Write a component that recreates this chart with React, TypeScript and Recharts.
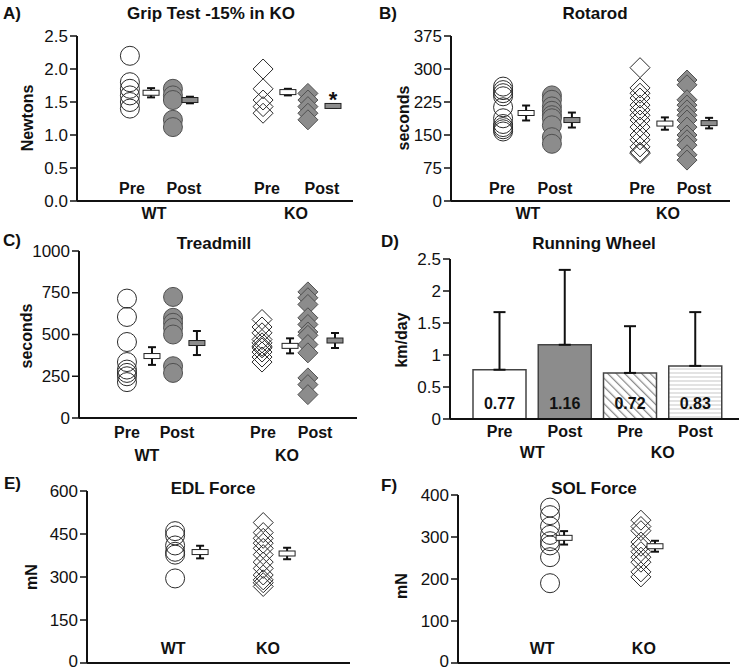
import { Bar, BarChart, Cell, ErrorBar, LabelList, Scatter, ScatterChart, XAxis, YAxis } from "recharts";

const FONT = '"Liberation Sans", Arial, Helvetica, sans-serif';
const INK = "#111";
const GREY = "#8c8c8c";

const phases = ["Pre", "Post", "Pre", "Post"];
const genotypes = ["WT", "KO"];

// A) grip strength, newtons
const gripWtPre = [2.2, 1.8, 1.7, 1.6, 1.5, 1.4];
const gripWtPost = [1.7, 1.6, 1.53, 1.23, 1.12];
const gripKoPre = [2.0, 1.7, 1.53, 1.43, 1.33];
const gripKoPost = [1.63, 1.53, 1.43, 1.33, 1.23];
const gripMeans = [1.64, 1.53, 1.65, 1.44];
const gripSem = [0.07, 0.05, 0.05, 0.03];

// B) rotarod, seconds
const rotaWtPre = [260, 252, 245, 238, 213, 188, 175, 168, 163, 158];
const rotaWtPost = [240, 230, 215, 205, 195, 188, 172, 145, 130];
const rotaKoPre = [303, 257, 245, 234, 218, 207, 195, 184, 168, 150, 139, 123, 111, 108];
const rotaKoPost = [275, 264, 230, 218, 207, 195, 184, 168, 150, 139, 127, 105, 93];
const rotaMeans = [200, 184, 176, 177];
const rotaSem = [17, 17, 14, 12];

// C) treadmill, seconds
const treadWtPre = [715, 605, 455, 335, 290, 270, 250, 215];
const treadWtPost = [725, 600, 570, 540, 500, 310, 270];
const treadKoPre = [590, 545, 510, 470, 450, 430, 420, 395, 365, 335];
const treadKoPost = [755, 720, 680, 600, 560, 515, 495, 440, 390, 240, 200, 140];
const treadMeans = [371, 449, 432, 464];
const treadSem = [53, 72, 45, 45];

// D) running wheel, km/day
const wheelGroups = ["WT", "WT", "KO", "KO"];
const wheelMeans = [0.77, 1.16, 0.72, 0.83];
const wheelSd = [0.9, 1.17, 0.73, 0.84];

// E) EDL force, mN
const edlWt = [460, 445, 410, 388, 378, 295];
const edlKo = [490, 455, 435, 418, 400, 378, 352, 330, 307, 290, 280, 267];
const edlMeans = [387, 382];
const edlSem = [22, 20];

// F) SOL force, mN
const solWt = [370, 352, 325, 305, 290, 280, 252, 190];
const solKo = [340, 325, 315, 288, 278, 265, 252, 240, 217, 205];
const solMeans = [298, 278];
const solSem = [16, 13];

type Kind = "circle" | "diamond";
type Cloud = { values: number[]; slot: number; kind: Kind; filled: boolean };
type Mean = { slot: number; value: number; err: number; filled: boolean; star?: boolean };
type AxisText = { at: number; text: string; dy: number };

function Marker(props: any) {
  const { cx, cy, kind, filled } = props;
  if (cx == null || cy == null) return <g />;
  const fill = filled ? GREY : "none";
  const stroke = filled ? "#505050" : "#2b2b2b";
  if (kind === "circle") return <circle cx={cx} cy={cy} r={9.5} fill={fill} stroke={stroke} strokeWidth={1} />;
  const s = 10;
  return (
    <polygon
      points={`${cx},${cy - s} ${cx + s},${cy} ${cx},${cy + s} ${cx - s},${cy}`}
      fill={fill}
      stroke={stroke}
      strokeWidth={1}
    />
  );
}

function MeanBox(props: any) {
  const { cx, cy, payload } = props;
  return (
    <g>
      <rect x={cx - 8} y={cy - 2.5} width={16} height={5} fill={payload.filled ? GREY : "#fff"} stroke="#222" strokeWidth={1} />
      {payload.star ? (
        <text x={cx} y={cy + 1} textAnchor="middle" fontSize={22} fontWeight={700} fill={INK}>
          *
        </text>
      ) : null}
    </g>
  );
}

// left-axis numbers, a little larger than recharts' default; kept inside the page at the bottom
function YTick(props: any) {
  const { x, y, payload, fmt, maxY } = props;
  const v = payload.value as number;
  return (
    <text x={x} y={maxY != null ? Math.min(y, maxY) : y} textAnchor="end" dominantBaseline="central" fontSize={17} fill={INK}>
      {fmt ? fmt(v) : String(v)}
    </text>
  );
}

function Caption({ x, y, text, size = 17, left = false, rotate = false }: any) {
  const shift = left ? "translate(0,-50%)" : "translate(-50%,-50%)";
  return (
    <div
      style={{
        position: "absolute",
        left: x,
        top: y,
        transform: rotate ? `${shift} rotate(-90deg)` : shift,
        fontSize: size,
        fontWeight: 700,
        lineHeight: 1,
        whiteSpace: "nowrap",
        color: INK,
      }}
    >
      {text}
    </div>
  );
}

type PanelProps = {
  box: { left: number; top: number; width: number; height: number };
  plotTop: number;
  plotRight: number;
  yWidth: number;
  xHeight: number;
  yMax: number;
  yTicks: number[];
  yFmt?: (v: number) => string;
  clouds: Cloud[];
  means: Mean[];
  labels: AxisText[];
};

function ScatterPanel(p: PanelProps) {
  const renderTick = (t: any) => {
    const l = p.labels.find((a) => Math.abs(a.at - t.payload.value) < 1e-6);
    if (!l) return <g />;
    return (
      <text x={t.x} y={t.y + l.dy} textAnchor="middle" dominantBaseline="central" fontSize={16} fontWeight={700} fill={INK}>
        {l.text}
      </text>
    );
  };
  return (
    <div style={{ position: "absolute", ...p.box }}>
      <ScatterChart
        width={p.box.width}
        height={p.box.height}
        margin={{ top: p.plotTop, right: p.plotRight, bottom: 0, left: 0 }}
        style={{ fontFamily: FONT }}
      >
        <XAxis
          type="number"
          dataKey="x"
          domain={[0, 12]}
          ticks={p.labels.map((l) => l.at)}
          interval={0}
          tick={renderTick}
          tickLine={false}
          tickSize={0}
          tickMargin={0}
          height={p.xHeight}
          axisLine={{ stroke: INK, strokeWidth: 2 }}
        />
        <YAxis
          type="number"
          dataKey="y"
          domain={[0, p.yMax]}
          ticks={p.yTicks}
          interval={0}
          width={p.yWidth}
          tick={(t: any) => <YTick {...t} fmt={p.yFmt} maxY={p.box.height - 9} />}
          tickSize={7}
          tickMargin={2}
          axisLine={{ stroke: INK, strokeWidth: 2 }}
          tickLine={{ stroke: INK, strokeWidth: 1.5 }}
        />
        {p.clouds.map((c, i) => (
          <Scatter
            key={i}
            data={c.values.map((v) => ({ x: c.slot, y: v }))}
            shape={(s: any) => <Marker {...s} kind={c.kind} filled={c.filled} />}
            isAnimationActive={false}
          />
        ))}
        <Scatter data={p.means.map((m) => ({ ...m, x: m.slot, y: m.value }))} shape={MeanBox} isAnimationActive={false} />
        <Scatter data={p.means.map((m) => ({ x: m.slot, y: m.value, err: m.err }))} shape={() => <g />} isAnimationActive={false}>
          <ErrorBar dataKey="err" direction="y" width={4} strokeWidth={2} stroke={INK} />
        </Scatter>
      </ScatterChart>
    </div>
  );
}

const four = (
  vals: number[][],
  slots: number[],
  meanSlots: number[],
  means: number[],
  errs: number[],
  kinds: Kind[],
  fills: boolean[],
) => ({
  clouds: vals.map((v, i) => ({ values: v, slot: slots[i], kind: kinds[i], filled: fills[i] })),
  means: means.map((m, i) => ({ slot: meanSlots[i], value: m, err: errs[i], filled: fills[i] }) as Mean),
});

const grip = four(
  [gripWtPre, gripWtPost, gripKoPre, gripKoPost],
  [2.3, 4.17, 8.09, 10.04],
  [3.22, 4.91, 9.17, 11.13],
  gripMeans,
  gripSem,
  ["circle", "circle", "diamond", "diamond"],
  [false, true, false, true],
);
grip.means[3].star = true;

const rota = four(
  [rotaWtPre, rotaWtPost, rotaKoPre, rotaKoPost],
  [2.24, 4.34, 8.13, 10.15],
  [3.23, 5.2, 9.2, 11.1],
  rotaMeans,
  rotaSem,
  ["circle", "circle", "diamond", "diamond"],
  [false, true, false, true],
);

const tread = four(
  [treadWtPre, treadWtPost, treadKoPre, treadKoPost],
  [2.07, 4.06, 7.9, 9.88],
  [3.15, 5.09, 9.11, 11.05],
  treadMeans,
  treadSem,
  ["circle", "circle", "diamond", "diamond"],
  [false, true, false, true],
);

const phaseText = (at: number[], dy: number) => phases.map((text, i) => ({ at: at[i], text, dy }));
const genoText = (at: number[], dy: number) => genotypes.map((text, i) => ({ at: at[i], text, dy }));

function WheelPanel() {
  const data = phases.map((cat, i) => ({ cat, group: wheelGroups[i], km: wheelMeans[i], err: [0, wheelSd[i]] }));
  const fills = ["#fff", GREY, "url(#wheelDiag)", "url(#wheelRule)"];
  const tick = { fontSize: 16, fontWeight: 700, fill: INK };
  return (
    <div style={{ position: "absolute", left: 372, top: 215, width: 373, height: 245 }}>
      <BarChart width={373} height={245} data={data} margin={{ top: 44, right: 6, bottom: 0, left: 0 }} style={{ fontFamily: FONT }}>
        <defs>
          <pattern id="wheelDiag" width={6} height={6} patternUnits="userSpaceOnUse" patternTransform="rotate(-45)">
            <rect width={6} height={6} fill="#fff" />
            <line x1={0} y1={0} x2={0} y2={6} stroke="#8a8a8a" strokeWidth={2.5} />
          </pattern>
          <pattern id="wheelRule" width={4} height={4} patternUnits="userSpaceOnUse">
            <rect width={4} height={4} fill="#fff" />
            <line x1={0} y1={2} x2={4} y2={2} stroke="#c8c8c8" strokeWidth={1} />
          </pattern>
        </defs>
        <XAxis
          dataKey="cat"
          padding={{ left: 17, right: 11 }}
          interval={0}
          tickLine={false}
          tickSize={0}
          tickMargin={7}
          height={22}
          tick={tick}
          axisLine={{ stroke: INK, strokeWidth: 2 }}
        />
        <XAxis
          xAxisId="grp"
          dataKey="group"
          allowDuplicatedCategory={false}
          padding={{ left: 17, right: 11 }}
          interval={0}
          axisLine={false}
          tickLine={false}
          tickSize={0}
          tickMargin={6}
          height={19}
          tick={tick}
        />
        <YAxis
          domain={[0, 2.5]}
          ticks={[0, 0.5, 1, 1.5, 2, 2.5]}
          interval={0}
          width={78}
          tick={(t: any) => <YTick {...t} />}
          tickSize={7}
          tickMargin={2}
          axisLine={{ stroke: INK, strokeWidth: 2 }}
          tickLine={{ stroke: INK, strokeWidth: 1.5 }}
        />
        <Bar dataKey="km" barSize={53} stroke="#444" strokeWidth={1.5} isAnimationActive={false}>
          {data.map((_, i) => (
            <Cell key={i} fill={fills[i]} />
          ))}
          <ErrorBar dataKey="err" direction="y" width={6} strokeWidth={2} stroke={INK} />
          <LabelList
            dataKey="km"
            position="insideBottom"
            offset={10}
            formatter={(v: any) => Number(v).toFixed(2)}
            style={{ fontSize: 16, fontWeight: 700, fill: INK }}
          />
        </Bar>
      </BarChart>
    </div>
  );
}

export default function App() {
  return (
    <div style={{ position: "absolute", left: 0, top: 0, width: 745, height: 670, background: "#fff", fontFamily: FONT }}>
      <ScatterPanel
        box={{ left: 0, top: 0, width: 372, height: 225 }}
        plotTop={36}
        plotRight={19}
        yWidth={77}
        xHeight={24}
        yMax={2.5}
        yTicks={[0, 0.5, 1, 1.5, 2, 2.5]}
        yFmt={(v) => v.toFixed(1)}
        clouds={grip.clouds}
        means={grip.means}
        labels={[...phaseText([2.39, 4.65, 8.26, 10.65], -13), ...genoText([3.35, 9.52], 12)]}
      />
      <ScatterPanel
        box={{ left: 372, top: 0, width: 373, height: 225 }}
        plotTop={36}
        plotRight={15}
        yWidth={79}
        xHeight={24}
        yMax={375}
        yTicks={[0, 75, 150, 225, 300, 375]}
        clouds={rota.clouds}
        means={rota.means}
        labels={[...phaseText([2.19, 4.47, 8.22, 10.45], -13), ...genoText([3.31, 9.33], 12)]}
      />
      <ScatterPanel
        box={{ left: 0, top: 215, width: 372, height: 255 }}
        plotTop={36}
        plotRight={15}
        yWidth={79}
        xHeight={52}
        yMax={1000}
        yTicks={[0, 250, 500, 750, 1000]}
        clouds={tread.clouds}
        means={tread.means}
        labels={[...phaseText([2.07, 4.23, 7.94, 10.19], 14), ...genoText([2.93, 8.98], 37)]}
      />
      <WheelPanel />
      <ScatterPanel
        box={{ left: 0, top: 445, width: 372, height: 225 }}
        plotTop={46}
        plotRight={22}
        yWidth={87}
        xHeight={7}
        yMax={600}
        yTicks={[0, 150, 300, 450, 600]}
        clouds={[
          { values: edlWt, slot: 4.02, kind: "circle", filled: false },
          { values: edlKo, slot: 8.04, kind: "diamond", filled: false },
        ]}
        means={[
          { slot: 5.16, value: edlMeans[0], err: edlSem[0], filled: false },
          { slot: 9.13, value: edlMeans[1], err: edlSem[1], filled: false },
        ]}
        labels={genoText([3.93, 8.26], -15)}
      />
      <ScatterPanel
        box={{ left: 372, top: 445, width: 373, height: 225 }}
        plotTop={50}
        plotRight={15}
        yWidth={86}
        xHeight={7}
        yMax={400}
        yTicks={[0, 100, 200, 300, 400]}
        clouds={[
          { values: solWt, slot: 4.06, kind: "circle", filled: false },
          { values: solKo, slot: 8.07, kind: "diamond", filled: false },
        ]}
        means={[
          { slot: 4.68, value: solMeans[0], err: solSem[0], filled: false },
          { slot: 8.69, value: solMeans[1], err: solSem[1], filled: false },
        ]}
        labels={genoText([3.71, 8.2], -15)}
      />

      <Caption x={3} y={13} text="A)" left />
      <Caption x={379} y={13} text="B)" left />
      <Caption x={3} y={240} text="C)" left />
      <Caption x={381} y={241} text="D)" left />
      <Caption x={4} y={483} text="E)" left />
      <Caption x={381} y={485} text="F)" left />

      <Caption x={211} y={13} text="Grip Test -15% in KO" />
      <Caption x={595} y={13} text="Rotarod" />
      <Caption x={214} y={243} text="Treadmill" />
      <Caption x={594} y={243} text="Running Wheel" />
      <Caption x={213} y={488} text="EDL Force" />
      <Caption x={594} y={488} text="SOL Force" />

      <Caption x={28} y={118} text="Newtons" size={16} rotate />
      <Caption x={404} y={118} text="seconds" size={16} rotate />
      <Caption x={27} y={336} text="seconds" size={16} rotate />
      <Caption x={402} y={340} text="km/day" size={16} rotate />
      <Caption x={32} y={577} text="mN" size={16} rotate />
      <Caption x={402} y={586} text="mN" size={16} rotate />
    </div>
  );
}
